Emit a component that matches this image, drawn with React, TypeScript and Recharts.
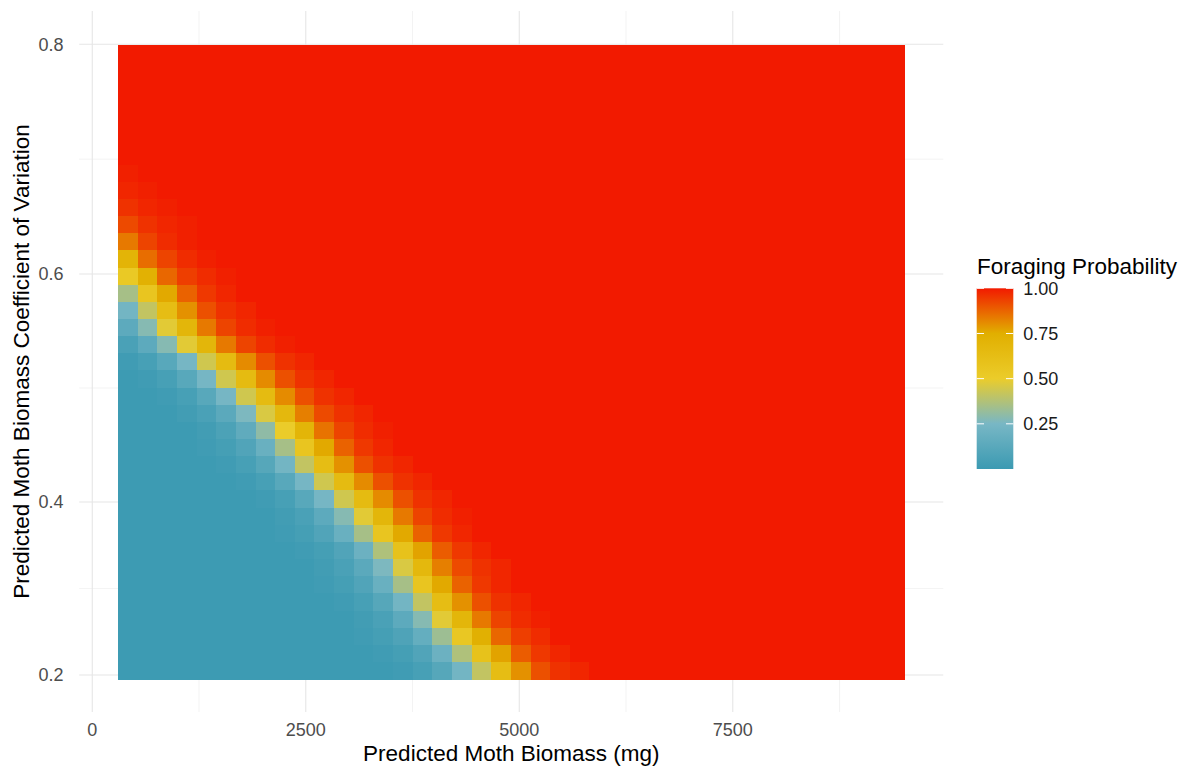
import { ScatterChart, Scatter, XAxis, YAxis, CartesianGrid, Legend } from 'recharts';

const FONT = '"Liberation Sans", Arial, Helvetica, sans-serif';

// tile column centres, predicted moth biomass (mg)
const biomass = [
  422, 652, 882, 1112, 1342, 1572, 1802, 2032, 2262, 2492,
  2722, 2952, 3182, 3412, 3642, 3872, 4102, 4332, 4562, 4792,
  5022, 5252, 5482, 5712, 5942, 6172, 6402, 6632, 6862, 7092,
  7322, 7552, 7782, 8012, 8242, 8472, 8702, 8932, 9162, 9392,
];

// tile row centres, coefficient of variation (top row first)
const cvRows = [
  0.7919, 0.777, 0.7621, 0.7471, 0.7322, 0.7173, 0.7023, 0.6874, 0.6725, 0.6575,
  0.6426, 0.6277, 0.6127, 0.5978, 0.5827, 0.5677, 0.5526, 0.5376, 0.5226, 0.5075,
  0.4925, 0.4774, 0.4624, 0.4473, 0.4323, 0.4173, 0.4022, 0.3831, 0.3633, 0.3434,
  0.3236, 0.3038, 0.284, 0.2641, 0.2443, 0.2245, 0.2046,
];

// per row: first column of the blue -> red transition; columns before it are ~0, after it ~1
const rampStart = [
  0, 0, 0, 0, 0, 0, 0, 0, 0, 0,
  0, 0, 0, 0, 0, 0, 0, 0, 0, 1,
  2, 3, 4, 4, 5, 6, 7, 8, 8, 9,
  10, 10, 11, 12, 12, 13, 14,
];

const rampValues = [
  [], [], [], [], [], [], [],
  [0.99],
  [0.98, 0.99],
  [0.96, 0.98, 0.99],
  [0.92, 0.96, 0.98, 0.99],
  [0.84, 0.93, 0.97, 0.99],
  [0.71, 0.86, 0.93, 0.97, 0.99],
  [0.53, 0.73, 0.87, 0.94, 0.97, 0.99],
  [0.35, 0.56, 0.76, 0.88, 0.95, 0.98],
  [0.23, 0.41, 0.63, 0.8, 0.91, 0.96, 0.98],
  [0.14, 0.28, 0.48, 0.69, 0.84, 0.93, 0.97, 0.99],
  [0.06, 0.14, 0.28, 0.48, 0.69, 0.84, 0.93, 0.97, 0.99],
  [0.02, 0.05, 0.12, 0.24, 0.44, 0.65, 0.81, 0.91, 0.96, 0.98],
  [0.02, 0.05, 0.12, 0.24, 0.44, 0.65, 0.81, 0.91, 0.96, 0.98],
  [0.02, 0.05, 0.12, 0.24, 0.44, 0.65, 0.81, 0.91, 0.96, 0.98],
  [0.03, 0.06, 0.13, 0.26, 0.46, 0.67, 0.83, 0.92, 0.96, 0.98],
  [0.03, 0.07, 0.15, 0.3, 0.5, 0.7, 0.85, 0.93, 0.97, 0.99],
  [0.02, 0.04, 0.09, 0.19, 0.35, 0.56, 0.76, 0.88, 0.95, 0.98],
  [0.02, 0.05, 0.11, 0.23, 0.41, 0.63, 0.8, 0.91, 0.96, 0.98],
  [0.02, 0.05, 0.12, 0.24, 0.44, 0.65, 0.81, 0.91, 0.96, 0.98],
  [0.02, 0.05, 0.12, 0.24, 0.44, 0.65, 0.81, 0.91, 0.96, 0.98],
  [0.03, 0.06, 0.14, 0.28, 0.48, 0.69, 0.84, 0.93, 0.97, 0.99],
  [0.02, 0.04, 0.09, 0.19, 0.35, 0.56, 0.76, 0.88, 0.95, 0.98],
  [0.02, 0.04, 0.09, 0.2, 0.37, 0.59, 0.77, 0.89, 0.95, 0.98],
  [0.03, 0.06, 0.13, 0.26, 0.46, 0.67, 0.83, 0.92, 0.96, 0.98],
  [0.02, 0.04, 0.09, 0.19, 0.35, 0.56, 0.76, 0.88, 0.95, 0.98],
  [0.02, 0.05, 0.11, 0.23, 0.41, 0.63, 0.8, 0.91, 0.96, 0.98],
  [0.03, 0.06, 0.14, 0.28, 0.48, 0.69, 0.84, 0.93, 0.97, 0.99],
  [0.02, 0.04, 0.08, 0.17, 0.33, 0.54, 0.74, 0.87, 0.94, 0.97],
  [0.02, 0.04, 0.09, 0.2, 0.37, 0.59, 0.77, 0.89, 0.95, 0.98],
  [0.02, 0.05, 0.11, 0.23, 0.41, 0.63, 0.8, 0.91, 0.96, 0.98],
];

const LOW = 0.01;
const HIGH = 1;

const xTicks = [0, 2500, 5000, 7500];
const xMinor = [1250, 3750, 6250, 8750];
const yTicks = [0.2, 0.4, 0.6, 0.8];
const yMinor = [0.3, 0.5, 0.7];
const legendTicks = [1, 0.75, 0.5, 0.25];

const zissou = ['#3B9AB2', '#78B7C5', '#EBCC2A', '#E1AF00', '#F21A00'];

// the reference's y axis is not evenly spaced: ticks sit at these shares of the plot height
const cvKnots = [0.1572, 0.2, 0.4, 0.6, 0.8, 0.829];
const cvKnotShare = [0, 0.0528, 0.2996, 0.6248, 0.9525, 1];

// tile size in px, with a small overlap so no seams show
const TILE_W = 20.5;
const TILE_H = 18.0;

function hexToRgb(h: string) {
  return [parseInt(h.slice(1, 3), 16), parseInt(h.slice(3, 5), 16), parseInt(h.slice(5, 7), 16)];
}

function probColor(p: number) {
  const t = Math.max(0, Math.min(1, p)) * (zissou.length - 1);
  const i = Math.min(Math.floor(t), zissou.length - 2);
  const f = t - i;
  const a = hexToRgb(zissou[i]);
  const b = hexToRgb(zissou[i + 1]);
  const c = a.map((v, k) => Math.round(v + (b[k] - v) * f));
  return `rgb(${c[0]},${c[1]},${c[2]})`;
}

function piecewiseScale(knots: number[], share: number[]): any {
  let dom = [knots[0], knots[knots.length - 1]];
  let rng = [0, 1];
  const scale: any = (v: number) => {
    const n = Number(v);
    if (Number.isNaN(n)) return NaN;
    let i = 0;
    while (i < knots.length - 2 && n > knots[i + 1]) i++;
    const t = (n - knots[i]) / (knots[i + 1] - knots[i]);
    const s = share[i] + t * (share[i + 1] - share[i]);
    return rng[0] + s * (rng[1] - rng[0]);
  };
  scale.domain = function (d?: number[]) {
    if (d === undefined) return dom.slice();
    dom = d.slice();
    return scale;
  };
  scale.range = function (r?: number[]) {
    if (r === undefined) return rng.slice();
    rng = r.slice();
    return scale;
  };
  scale.invert = (px: number) => {
    const s = (px - rng[0]) / (rng[1] - rng[0]);
    let i = 0;
    while (i < share.length - 2 && s > share[i + 1]) i++;
    const t = (s - share[i]) / (share[i + 1] - share[i]);
    return knots[i] + t * (knots[i + 1] - knots[i]);
  };
  scale.copy = () => piecewiseScale(knots, share).domain(dom).range(rng);
  scale.ticks = () => knots.slice(1, -1);
  return scale;
}

const cvScale = piecewiseScale(cvKnots, cvKnotShare);

const tiles = cvRows.flatMap((cv, r) =>
  biomass.map((m, c) => {
    const k = c - rampStart[r];
    const vals = rampValues[r];
    const p = k < 0 ? LOW : k < vals.length ? vals[k] : HIGH;
    return { x: m, y: cv, p };
  }),
);

const renderTile = (props: any) => {
  const { cx, cy, payload } = props;
  if (cx == null || cy == null) return <g />;
  return (
    <rect
      x={cx - TILE_W / 2}
      y={cy - TILE_H / 2}
      width={TILE_W}
      height={TILE_H}
      fill={probColor(payload.p)}
      stroke="none"
      shapeRendering="crispEdges"
    />
  );
};

const ColorBar = () => {
  const barX = 6.7;
  const barY = 38.3;
  const barW = 36.6;
  const barH = 180.7;
  const tickLen = barW / 5;
  const pos = (v: number) => barY + (1 - v) * barH;
  return (
    <svg width={220} height={230} style={{ fontFamily: FONT, overflow: 'visible' }}>
      <defs>
        <linearGradient id="forageGrad" x1="0" y1="1" x2="0" y2="0">
          {zissou.map((c, i) => (
            <stop key={c} offset={i / (zissou.length - 1)} stopColor={c} />
          ))}
        </linearGradient>
      </defs>
      <text x={7} y={23.5} fontSize={22.5} fill="#000">
        Foraging Probability
      </text>
      <rect x={barX} y={barY} width={barW} height={barH} fill="url(#forageGrad)" />
      {legendTicks.map((v) => (
        <g key={v}>
          <line x1={barX} x2={barX + tickLen} y1={pos(v)} y2={pos(v)} stroke="#fff" strokeWidth={1} />
          <line x1={barX + barW - tickLen} x2={barX + barW} y1={pos(v)} y2={pos(v)} stroke="#fff" strokeWidth={1} />
          <text x={53.3} y={pos(v)} dy="0.36em" fontSize={18} fill="#1a1a1a">
            {v.toFixed(2)}
          </text>
        </g>
      ))}
    </svg>
  );
};

export default function App() {
  return (
    <div style={{ position: 'absolute', left: 0, top: 0, width: 1190, height: 770, background: '#fff', fontFamily: FONT }}>
      <ScatterChart width={1190} height={770} margin={{ top: 11, right: 246.7, bottom: 18, left: 19.2 }}>
        <CartesianGrid stroke="#ebebeb" strokeWidth={0.6} horizontalValues={yMinor} verticalValues={xMinor} />
        <CartesianGrid stroke="#e6e6e6" strokeWidth={1.1} horizontalValues={yTicks} verticalValues={xTicks} />
        <XAxis
          type="number"
          dataKey="x"
          domain={[-153, 9965]}
          allowDataOverflow
          ticks={xTicks}
          interval={0}
          height={40}
          axisLine={false}
          tickLine={false}
          tickSize={0}
          tickMargin={11}
          tick={{ fill: '#4d4d4d', fontSize: 18, fontFamily: FONT }}
          label={() => (
            <text x={511.3} y={761} textAnchor="middle" fontSize={22.5} fill="#000" fontFamily={FONT}>
              Predicted Moth Biomass (mg)
            </text>
          )}
        />
        <YAxis
          type="number"
          dataKey="y"
          scale={cvScale}
          domain={[0.1572, 0.829]}
          allowDataOverflow
          ticks={yTicks}
          interval={0}
          width={60}
          axisLine={false}
          tickLine={false}
          tickSize={0}
          tickMargin={15.7}
          tick={{ fill: '#4d4d4d', fontSize: 18, fontFamily: FONT }}
          label={() => (
            <text
              x={21}
              y={361.5}
              dy="0.35em"
              transform="rotate(-90 21 361.5)"
              textAnchor="middle"
              fontSize={22.5}
              fill="#000"
              fontFamily={FONT}
            >
              Predicted Moth Biomass Coefficient of Variation
            </text>
          )}
        />
        <Scatter data={tiles} shape={renderTile} isAnimationActive={false} />
        <Legend
          layout="horizontal"
          verticalAlign="middle"
          align="center"
          content={() => <ColorBar />}
          wrapperStyle={{ position: 'absolute', left: 970, top: 250, width: 220, height: 230 }}
        />
      </ScatterChart>
    </div>
  );
}
